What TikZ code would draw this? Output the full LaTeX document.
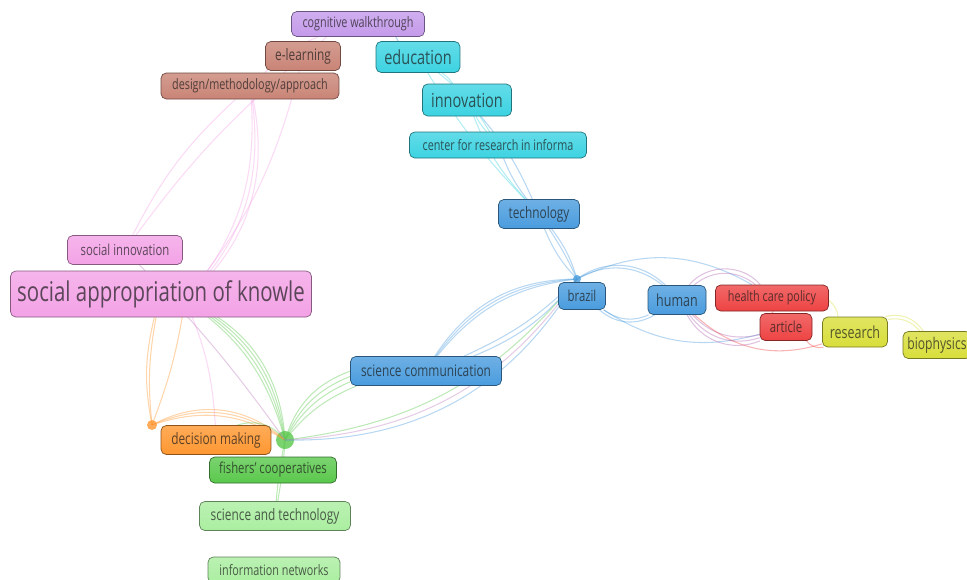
\documentclass[tikz,border=0pt]{standalone}
\usepackage{fontspec}
\setmainfont[FakeStretch=0.75]{Open Sans}
\usetikzlibrary{backgrounds}

\definecolor{cpurple}{HTML}{C49AEA}
\definecolor{cbrown}{HTML}{C98476}
\definecolor{ccyan}{HTML}{3CD3E2}
\definecolor{cpink}{HTML}{F3A2E6}
\definecolor{cblue}{HTML}{4A9CDE}
\definecolor{cred}{HTML}{EE4343}
\definecolor{cyellow}{HTML}{D8DE3A}
\definecolor{corange}{HTML}{FF9730}
\definecolor{cgreen}{HTML}{5AC84C}
\definecolor{clgreen}{HTML}{AAEEA0}

\begin{document}
\begin{tikzpicture}[x=0.02cm,y=-0.02cm,
  term/.style={rounded corners=3pt,draw=#1!55!black,top color=#1!80!white,bottom color=#1,text=#1!30!black!90,inner sep=1pt},
  sz/.style 2 args={minimum width=#1cm,minimum height=#2cm},
  fs/.style={font=\fontsize{#1}{#1}\selectfont},
  link/.style={line width=0.6pt,draw opacity=0.4}]
  \useasboundingbox (0,0) rectangle (967,579);
  \clip (0,0) rectangle (967,579);

  % terms
  \node[term=cpurple,sz={2.66}{0.5},fs=8.2] (cog) at (358,24) {cognitive walkthrough};
  \node[term=cbrown,sz={1.5}{0.58},fs=9] (ele) at (303,56) {e-learning};
  \node[term=ccyan,sz={1.68}{0.62},fs=11] (edu) at (418,57) {education};
  \node[term=cbrown,sz={3.56}{0.52},fs=8.2] (dma) at (250,86) {design/methodology/approach};
  \node[term=ccyan,sz={1.78}{0.64},fs=11] (inn) at (467,100) {innovation};
  \node[term=ccyan,sz={3.54}{0.52},fs=8.2] (cen) at (498,145) {center for research in informa};
  \node[term=cblue,sz={1.62}{0.58},fs=9] (tec) at (539,214) {technology};
  \node[term=cpink,sz={2.3}{0.58},fs=8.6] (soc) at (125,250) {social innovation};
  \node[term=cpink,sz={6.02}{0.92},fs=15.5] (sak) at (161,294) {social appropriation of knowle};
  \node[term=cblue,sz={0.94}{0.54},fs=8.6] (bra) at (582,296) {brazil};
  \node[term=cblue,sz={1.16}{0.58},fs=9.5] (hum) at (677,300) {human};
  \node[term=cred,sz={2.26}{0.52},fs=8.2] (hcp) at (772,298) {health care policy};
  \node[term=cred,sz={1.04}{0.54},fs=8.6] (art) at (786,327) {article};
  \node[term=cyellow,sz={1.3}{0.6},fs=9.5] (res) at (855,332) {research};
  \node[term=cyellow,sz={1.36}{0.54},fs=9.2] (bio) at (937,345) {biophysics};
  \node[term=cblue,sz={3.02}{0.58},fs=9] (scc) at (426,371) {science communication};
  \node[term=corange,sz={2.2}{0.58},fs=9] (dec) at (216,440) {decision making};
  \node[term=cgreen,sz={2.54}{0.52},fs=8.6] (fis) at (273,470) {fishers' cooperatives};
  \node[term=clgreen,sz={3.02}{0.58},fs=9] (sat) at (275,516) {science and technology};
  \node[term=clgreen,sz={2.64}{0.52},fs=8.2] (inf) at (274,570) {information networks};

  \coordinate (fisdot) at (285,440);
  \coordinate (decdot) at (152,425);
  \coordinate (bradot) at (577,279);
  \coordinate (sakdot) at (185,300);

  \begin{scope}[on background layer]
  \fill[cgreen!80] (fisdot) circle (9);
  \fill[corange!80] (decdot) circle (5);
  \fill[cblue!80] (bradot) circle (4);

  \path[link,draw=cpink]
    (sakdot) edge[bend right=22] (dma)
    (sakdot) edge[bend right=26] (dma)
    (sakdot) edge[bend right=30] (dma)
    (soc) edge[bend left=10] (dma)
    (soc) edge[bend left=6] (ele)
    (sakdot) edge[bend right=12] (ele)
    (ele) edge[bend left=8] (cog)
    (dma) edge[bend left=12] (cog)
    (sakdot) edge[bend left=10] (dec);
  \path[link,draw=corange]
    (sak) edge[bend right=8] (decdot)
    (sak) edge[bend right=12] (decdot)
    (sakdot) edge[bend left=6] (decdot)
    (decdot) edge[bend left=25] (fisdot)
    (decdot) edge[bend left=30] (fisdot)
    (decdot) edge[bend left=35] (fisdot);
  \path[link,draw=cgreen]
    (sakdot) edge[bend left=20] (fisdot)
    (sakdot) edge[bend left=24] (fisdot)
    (sakdot) edge[bend left=28] (fisdot)
    (sakdot) edge[bend left=32] (fisdot)
    (dec) edge[bend left=35] (fisdot)
    (fisdot) edge[bend left=14] (scc)
    (fisdot) edge[bend left=18] (scc)
    (fisdot) edge[bend left=22] (scc)
    (fisdot) edge[bend left=26] (scc)
    (fisdot) edge[bend right=22] (bradot)
    (fisdot) edge[bend right=3] (sat)
    (fisdot) edge[bend left=3] (sat);
  \path[link,draw=violet!50]
    (soc) edge[bend left=4] (fisdot)
    (fisdot) edge[bend right=26] (bradot);
  \path[link,draw=cblue]
    (fisdot) edge[bend right=30] (bradot)
    (scc) edge[bend left=22] (bradot)
    (scc) edge[bend left=25] (bradot)
    (scc) edge[bend left=28] (bradot)
    (scc) edge[bend right=10] (bradot)
    (scc) edge[bend right=14] (bradot)
    (bradot) edge[bend left=10] (tec)
    (bradot) edge[bend right=10] (tec)
    (bradot) edge[bend right=4] (tec)
    (tec) edge[bend left=8] (cen)
    (tec) edge[bend right=8] (inn)
    (bradot) edge[bend left=40] (hum)
    (bradot) edge[bend left=34] (hum)
    (bra) edge[bend right=30] (hum)
    (bra) edge[bend right=36] (hum)
    (bradot) edge[bend left=28] (hcp)
    (bra) edge[bend right=24] (art)
    (edu) edge[bend right=10] (cog);
  \path[link,draw=ccyan]
    (tec) edge[bend left=10] (inn)
    (cen) edge[bend left=6] (inn)
    (cen) edge[bend right=10] (edu)
    (inn) edge[bend right=8] (edu)
    (tec) edge[bend left=6] (edu);
  \path[link,draw=violet!60]
    (hum) edge[bend left=40] (hcp)
    (hum) edge[bend left=50] (hcp)
    (hum) edge[bend right=30] (art)
    (hum) edge[bend right=36] (art)
    (hum) edge[bend right=42] (art);
  \path[link,draw=cred]
    (hcp) edge[bend right=20] (art)
    (hum) edge[bend right=30] (res)
    (art) edge[bend right=30] (res);
  \path[link,draw=cyellow]
    (hcp) edge[bend left=20] (res)
    (res) edge[bend left=30] (bio)
    (res) edge[bend left=36] (bio);
  \end{scope}
\end{tikzpicture}
\end{document}
